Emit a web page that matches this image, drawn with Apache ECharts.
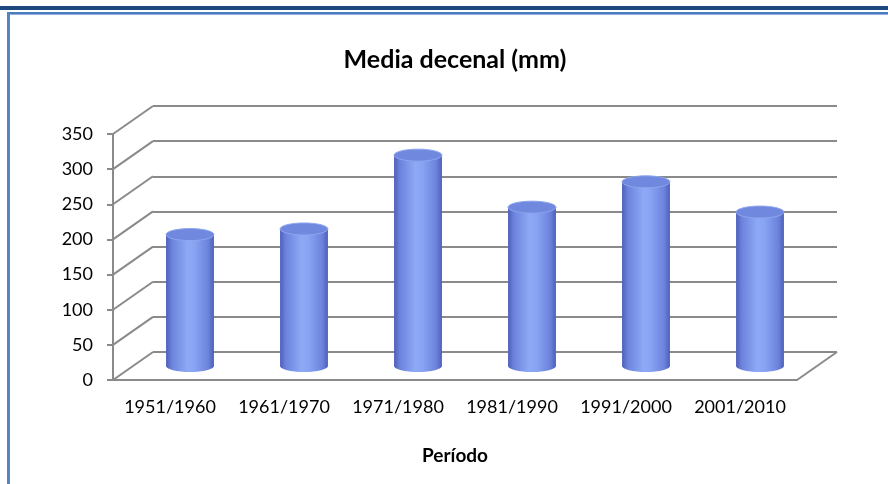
<!DOCTYPE html>
<html>
<head>
<meta charset="utf-8">
<script src="https://cdn.jsdelivr.net/npm/echarts@6/dist/echarts.min.js"></script>
<style>
html,body{margin:0;padding:0;background:#fff;}
#c{width:888px;height:484px;}
</style>
</head>
<body>
<div id="c"></div>
<script>
// ---- data ----
const categories = ['1951/1960', '1961/1970', '1971/1980', '1981/1990', '1991/2000', '2001/2010'];
const values = [187, 195, 300, 226, 262, 219];
const yTicks = [0, 50, 100, 150, 200, 250, 300, 350];
const titleText = 'Media decenal (mm)';
const xName = 'Período';

// ---- styling constants ----
const DX = 40, DY = -28;           // depth offset front -> back wall
const GRID_COLOR = '#8a8a8a';
const FONT = 'Lato, "Open Sans", sans-serif';

const chart = echarts.init(document.getElementById('c'), null, {renderer: 'canvas'});

const cylGrad = () => new echarts.graphic.LinearGradient(0, 0, 1, 0, [
  {offset: 0, color: '#4d5fba'},
  {offset: 0.12, color: '#6c83dc'},
  {offset: 0.45, color: '#8eaaf6'},
  {offset: 0.6, color: '#88a3f2'},
  {offset: 0.88, color: '#6c83dc'},
  {offset: 1, color: '#4d5fba'}
]);

chart.setOption({
  animation: false,
  backgroundColor: '#ffffff',
  title: {
    text: titleText,
    left: 450,
    top: 42,
    textAlign: 'center',
    textStyle: {fontFamily: FONT, fontWeight: 'bold', fontSize: 25, color: '#000'}
  },
  graphic: [
    {type: 'rect', shape: {x: 0, y: 6, width: 888, height: 4}, style: {fill: '#1f497d'}, silent: true},
    {type: 'rect', shape: {x: 7, y: 12, width: 881, height: 2}, style: {fill: '#4a7ebb'}, silent: true},
    {type: 'rect', shape: {x: 7, y: 14, width: 881, height: 1}, style: {fill: '#8fb0dc'}, silent: true},
    {type: 'rect', shape: {x: 7, y: 12, width: 3, height: 472}, style: {fill: '#5585c5'}, silent: true}
  ],
  grid: [
    {left: 153, right: 51, top: 106, bottom: 132},
    {left: 113, right: 91, top: 134, bottom: 104}
  ],
  xAxis: [
    {gridIndex: 0, type: 'category', data: categories, show: false},
    {
      gridIndex: 1, type: 'category', data: categories,
      axisLine: {show: true, lineStyle: {color: GRID_COLOR, width: 2}},
      axisTick: {show: false},
      axisLabel: {interval: 0, margin: 18, fontFamily: FONT, fontSize: 18, color: '#000'},
      name: xName, nameLocation: 'middle', nameGap: 66,
      nameTextStyle: {fontFamily: FONT, fontWeight: 'bold', fontSize: 19, color: '#000'}
    }
  ],
  yAxis: [
    {
      gridIndex: 0, type: 'value', min: 0, max: 350, interval: 50,
      axisLine: {show: false}, axisTick: {show: false}, axisLabel: {show: false},
      splitLine: {show: true, lineStyle: {color: GRID_COLOR, width: 2}}
    },
    {
      gridIndex: 1, type: 'value', min: 0, max: 350, interval: 50,
      axisLine: {show: true, lineStyle: {color: GRID_COLOR, width: 2}},
      axisTick: {show: true, length: 6, lineStyle: {color: GRID_COLOR, width: 2}},
      axisLabel: {margin: 20, fontFamily: FONT, fontSize: 18, color: '#000'},
      splitLine: {show: false}
    }
  ],
  series: [
    {
      // diagonal depth lines from front axis to back wall
      type: 'custom', xAxisIndex: 1, yAxisIndex: 1,
      data: yTicks.map(v => [0, v]),
      encode: {x: 0, y: 1},
      silent: true, z: 1,
      renderItem(params, api) {
        const p = api.coord([api.value(0), api.value(1)]);
        const band = api.size([1, 0])[0];
        const x0 = p[0] - band / 2;
        return {type: 'line', shape: {x1: x0, y1: p[1], x2: x0 + DX, y2: p[1] + DY},
                style: {stroke: GRID_COLOR, lineWidth: 2}};
      }
    },
    {
      // right edge of floor
      type: 'custom', xAxisIndex: 1, yAxisIndex: 1,
      data: [[categories.length - 1, 0]],
      encode: {x: 0, y: 1},
      silent: true, z: 1,
      renderItem(params, api) {
        const p = api.coord([api.value(0), api.value(1)]);
        const band = api.size([1, 0])[0];
        const x0 = p[0] + band / 2;
        return {type: 'line', shape: {x1: x0, y1: p[1], x2: x0 + DX, y2: p[1] + DY},
                style: {stroke: GRID_COLOR, lineWidth: 2}};
      }
    },
    {
      // cylinders
      type: 'custom', xAxisIndex: 1, yAxisIndex: 1,
      data: values.map((v, i) => [i, v]),
      encode: {x: 0, y: 1},
      z: 5,
      renderItem(params, api) {
        const i = api.value(0), v = api.value(1);
        const top = api.coord([i, v]);
        const base = api.coord([i, 0]);
        const band = api.size([1, 0])[0];
        const w = band * 0.42;
        const rx = w / 2, ry = 6;
        const cx = top[0] + DX / 2;
        const ty = top[1] + DY / 2;
        const by = base[1] + DY / 2;
        return {
          type: 'group',
          children: [
            {type: 'ellipse', shape: {cx: cx, cy: by, rx: rx, ry: ry}, style: {fill: cylGrad()}},
            {type: 'rect', shape: {x: cx - rx, y: ty, width: w, height: by - ty}, style: {fill: cylGrad()}},
            {type: 'ellipse', shape: {cx: cx, cy: ty, rx: rx, ry: ry},
             style: {fill: '#7088dd', stroke: '#8ea6ee', lineWidth: 1}}
          ]
        };
      }
    }
  ]
});
</script>
</body>
</html>
